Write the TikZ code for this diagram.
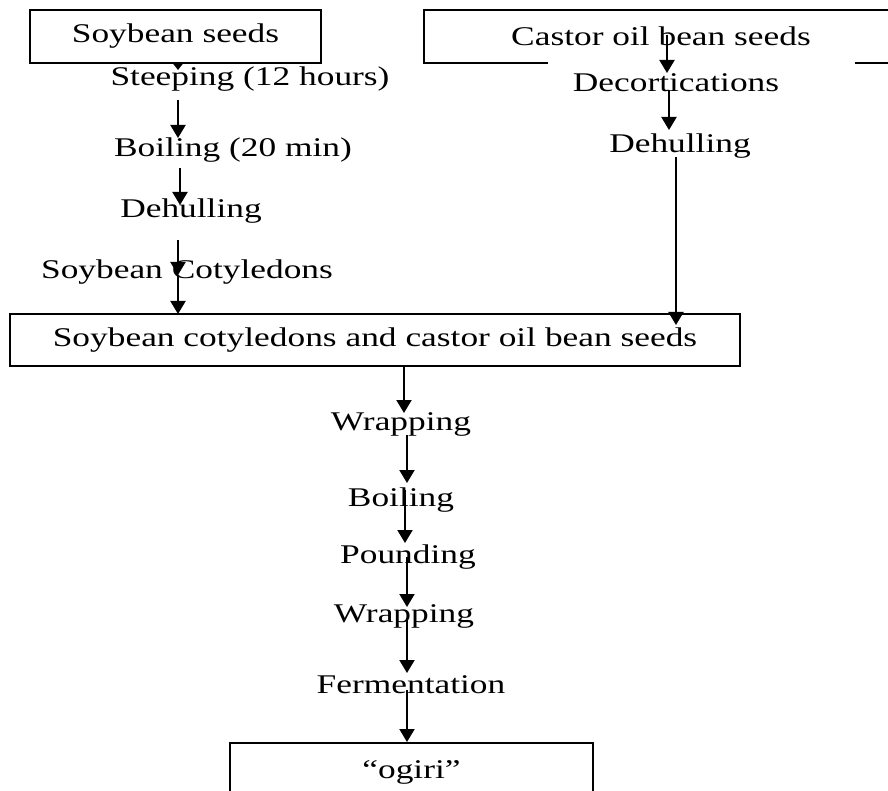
\documentclass[tikz,border=0pt]{standalone}
\usepackage{fontspec}
\setmainfont{Liberation Serif}[FakeStretch=1.31]
\usetikzlibrary{arrows.meta,calc}
\begin{document}
\begin{tikzpicture}[x=1pt,y=-1pt,
  lbl/.style={anchor=base,inner sep=0pt,font=\fontsize{27}{32}\selectfont},
  boxn/.style={draw,line width=2pt,inner sep=0pt,font=\fontsize{27}{32}\selectfont},
  arr/.style={line width=2pt,-{Triangle[length=13pt,width=15pt]}},
  smallarr/.style={line width=2pt,-{Triangle[length=6pt,width=9pt]}}]
\useasboundingbox (0,0) rectangle (888,791);

% column positions
\coordinate (xL1) at (178,0);
\coordinate (xL2) at (180,0);
\coordinate (xR1) at (667,0);
\coordinate (xR2) at (669,0);
\coordinate (xR3) at (676,0);
\coordinate (xC1) at (404,0);
\coordinate (xC2) at (407,0);
\coordinate (xC3) at (405,0);

% boxes
\node[boxn,minimum width=291pt,minimum height=53pt] (soy) at (175.5,36.5) {Soybean seeds};
\node[inner sep=0pt,minimum width=474pt,minimum height=53pt,font=\fontsize{27}{32}\selectfont] (castor) at (661,36.5) {Castor oil bean seeds};
\draw[line width=2pt] ([xshift=124pt]castor.south west) -- (castor.south west) -- (castor.north west) -- (castor.north east) -- (castor.south east) -- ([xshift=-43pt]castor.south east);
\node[boxn,minimum width=730pt,minimum height=52pt] (mix) at (375,340) {Soybean cotyledons and castor oil bean seeds};
\node[boxn,minimum width=363pt,minimum height=58pt,anchor=north] (ogiri) at (411.5,742) {“ogiri”};

% left column labels
\node[lbl] (steep) at (250,86) {Steeping (12 hours)};
\node[lbl] (boilL) at (233,157) {Boiling (20 min)};
\node[lbl] (dehL) at (191,218) {Dehulling};
\node[lbl] (cot) at (187,279) {Soybean Cotyledons};

% right column labels
\node[lbl] (decort) at (676,92) {Decortications};
\node[lbl] (dehR) at (680,153) {Dehulling};

% centre column labels
\node[lbl] (wrap1) at (401,430) {Wrapping};
\node[lbl] (boilC) at (401,506) {Boiling};
\node[lbl] (pound) at (408,563) {Pounding};
\node[lbl] (wrap2) at (404,622) {Wrapping};
\node[lbl] (ferm) at (411,693) {Fermentation};

% left arrows
\draw[smallarr] (soy.south -| xL1) -- ($(soy.south -| xL1)+(0,6)$);
\draw[arr] ($(steep.base -| xL1)+(0,14)$) -- ($(boilL.base -| xL1)+(0,-19)$);
\draw[arr] ($(boilL.base -| xL2)+(0,11)$) -- ($(dehL.base -| xL2)+(0,-13)$);
\draw[arr] ($(dehL.base -| xL1)+(0,22)$) -- ($(cot.base -| xL1)+(0,-4)$);
\draw[arr] ($(cot.base -| xL1)+(0,-4)$) -- ($(mix.north -| xL1)+(0,1)$);

% right arrows
\draw[arr] ($(castor.base -| xR1)+(0,-11)$) -- ($(decort.base -| xR1)+(0,-19)$);
\draw[arr] ($(decort.base -| xR2)+(0,-2)$) -- ($(dehR.base -| xR2)+(0,-23)$);
\draw[arr] ($(dehR.base -| xR3)+(0,4)$) -- ($(mix.north -| xR3)+(0,12)$);

% centre arrows
\draw[arr] (mix.south -| xC1) -- ($(wrap1.base -| xC1)+(0,-17)$);
\draw[arr] ($(wrap1.base -| xC2)+(0,5)$) -- ($(boilC.base -| xC2)+(0,-23)$);
\draw[arr] ($(boilC.base -| xC3)+(0,-16)$) -- ($(pound.base -| xC3)+(0,-20)$);
\draw[arr] ($(pound.base -| xC2)+(0,-6)$) -- ($(wrap2.base -| xC2)+(0,-15)$);
\draw[arr] ($(wrap2.base -| xC2)+(0,-2)$) -- ($(ferm.base -| xC2)+(0,-20)$);
\draw[arr] ($(ferm.base -| xC2)+(0,-3)$) -- (ogiri.north -| xC2);
\end{tikzpicture}
\end{document}
